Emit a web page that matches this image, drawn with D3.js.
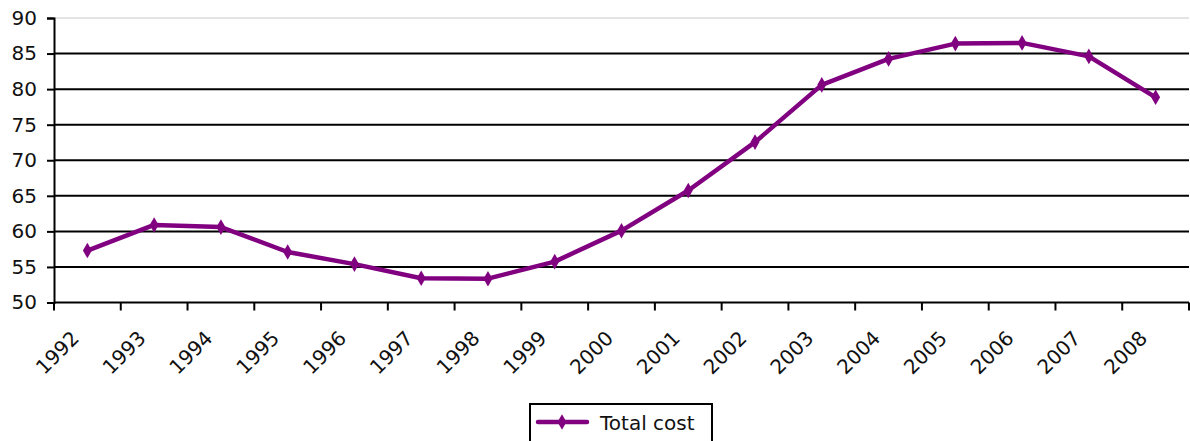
<!DOCTYPE html>
<html>
<head>
<meta charset="utf-8">
<script src="https://cdn.jsdelivr.net/npm/d3@7"></script>
<style>
  body { margin: 0; background: #fff; }
  svg text { font-family: "DejaVu Sans", Verdana, sans-serif; fill: #111; }
</style>
</head>
<body>
<script>
// chart data
var years = ["1992", "1993", "1994", "1995", "1996", "1997", "1998", "1999", "2000",
             "2001", "2002", "2003", "2004", "2005", "2006", "2007", "2008"];
var totalCost = [57.3, 60.9, 60.6, 57.1, 55.4, 53.4, 53.35, 55.75, 60.1,
                 65.75, 72.55, 80.6, 84.25, 86.4, 86.5, 84.6, 78.85];
var yTicks = [50, 55, 60, 65, 70, 75, 80, 85, 90];
var seriesName = "Total cost";

var W = 1190, H = 441;
var plotLeft = 54, plotRight = 1189, plotTop = 18, plotBottom = 302.5;
var purple = "#800080";

var svg = d3.select("body").append("svg")
  .attr("width", W)
  .attr("height", H);

var x = d3.scaleBand().domain(years).range([plotLeft, plotRight]);
var y = d3.scaleLinear().domain([50, 90]).range([plotBottom, plotTop]);

// gridlines
svg.append("g").selectAll("line")
  .data(yTicks.filter(function(d) { return d > 50; }))
  .enter().append("line")
  .attr("x1", plotLeft).attr("x2", plotRight)
  .attr("y1", function(d) { return y(d); })
  .attr("y2", function(d) { return y(d); })
  .attr("stroke", function(d) { return d === 90 ? "#c8c8c8" : "#000"; })
  .attr("stroke-width", function(d) { return d === 90 ? 1 : 2; });

// y axis
var yAxis = d3.axisLeft(y).tickValues(yTicks).tickSize(7).tickPadding(10);
var gy = svg.append("g")
  .attr("transform", "translate(" + plotLeft + ",0)")
  .call(yAxis);
gy.select(".domain").attr("stroke", "#000").attr("stroke-width", 2);
gy.selectAll(".tick line").attr("stroke", "#000").attr("stroke-width", 2);
gy.selectAll(".tick text")
  .attr("font-size", 20)
  .attr("font-family", "DejaVu Sans, sans-serif")
  .attr("fill", "#111");

// x axis line + ticks at category boundaries
svg.append("line")
  .attr("x1", plotLeft).attr("x2", plotRight)
  .attr("y1", plotBottom).attr("y2", plotBottom)
  .attr("stroke", "#000").attr("stroke-width", 2);
var bounds = years.map(function(d) { return x(d); }).concat([plotRight]);
svg.append("g").selectAll("line")
  .data(bounds)
  .enter().append("line")
  .attr("x1", function(d) { return d; })
  .attr("x2", function(d) { return d; })
  .attr("y1", plotBottom).attr("y2", plotBottom + 8)
  .attr("stroke", "#000").attr("stroke-width", 2);

// rotated labels
svg.append("g").selectAll("text")
  .data(years)
  .enter().append("text")
  .attr("text-anchor", "end")
  .attr("font-size", 20)
  .attr("transform", function(d) {
    var cx = x(d) + x.bandwidth() / 2;
    return "translate(" + (cx - 12) + "," + (plotBottom + 32) + ") rotate(-45)";
  })
  .attr("dy", "0.35em")
  .text(function(d) { return d; });

// series line
var line = d3.line()
  .x(function(d, i) { return x(years[i]) + x.bandwidth() / 2; })
  .y(function(d) { return y(d); });

svg.append("path")
  .datum(totalCost)
  .attr("d", line)
  .attr("fill", "none")
  .attr("stroke", purple)
  .attr("stroke-width", 4.5)
  .attr("stroke-linejoin", "round");

var diamond = d3.symbol().type(d3.symbolDiamond).size(70);
svg.append("g").selectAll("path")
  .data(totalCost)
  .enter().append("path")
  .attr("d", diamond)
  .attr("transform", function(d, i) {
    return "translate(" + (x(years[i]) + x.bandwidth() / 2) + "," + y(d) + ")";
  })
  .attr("fill", purple);

// legend
var lg = svg.append("g");
lg.append("rect")
  .attr("x", 530).attr("y", 404)
  .attr("width", 182).attr("height", 50)
  .attr("fill", "#fff")
  .attr("stroke", "#000").attr("stroke-width", 2);
lg.append("line")
  .attr("x1", 538).attr("x2", 587)
  .attr("y1", 422).attr("y2", 422)
  .attr("stroke", purple).attr("stroke-width", 4.5)
  .attr("stroke-linecap", "round");
lg.append("path")
  .attr("d", diamond)
  .attr("transform", "translate(562,422)")
  .attr("fill", purple);
lg.append("text")
  .attr("x", 600).attr("y", 430)
  .attr("font-size", 20)
  .text(seriesName);
</script>
</body>
</html>
